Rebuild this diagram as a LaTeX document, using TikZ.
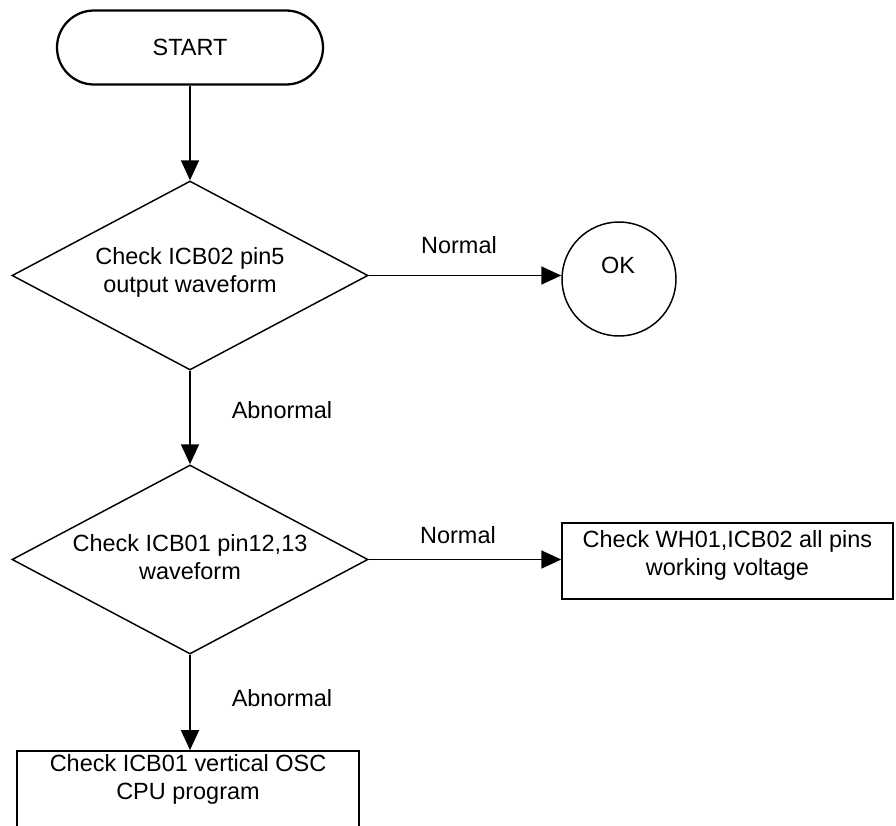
\documentclass[tikz,border=0pt]{standalone}
\usepackage{fontspec}
\setmainfont{Liberation Sans}
\usetikzlibrary{shapes.geometric,shapes.misc,arrows.meta}
\tikzset{
  every node/.style={font=\fontsize{17.6}{21}\selectfont, align=center},
  startbox/.style={rounded rectangle, draw, line width=1.7pt, minimum width=199.5pt, minimum height=55.5pt, inner sep=0pt},
  dia/.style={diamond, draw, line width=1.1pt, minimum width=267pt, minimum height=141.75pt, inner sep=0pt},
  okcirc/.style={circle, draw, line width=1.1pt, minimum size=85.5pt, inner sep=0pt},
  procbox/.style={rectangle, draw, line width=1.3pt, inner sep=0pt},
  txt/.style={inner sep=0pt},
  flow/.style={line width=1.3pt, -{Triangle[length=15pt, width=13.5pt]}}
}
\begin{document}
\begin{tikzpicture}[x=0.75pt, y=-0.75pt]
\useasboundingbox (0,0) rectangle (896,825);
\node[startbox] (start) at (190,47.5) {START};
\node[dia] (d1) at (190,275.5) {};
\node[txt] (t1) at (190,272) {Check ICB02 pin5\\output waveform};
\node[okcirc] (ok) at (619,279) {};
\node[txt] (tok) at (618,265) {OK};
\node[dia] (d2) at (190,559.5) {};
\node[txt] (t2) at (190,557) {Check ICB01 pin12,13\\waveform};
\node[procbox, minimum width=248pt, minimum height=57pt] (b2) at (727.5,561) {};
\node[txt] (tb2) at (727.5,555) {Check WH01,ICB02 all pins\\working voltage};
\node[procbox, minimum width=256.5pt, minimum height=66.75pt] (b3) at (188,795.5) {};
\node[txt] (tb3) at (188,779) {Check ICB01 vertical OSC\\CPU program};
\node[txt] (n1) at (459,245) {Normal};
\node[txt] (n2) at (458,535) {Normal};
\node[txt] (a1) at (282,410) {Abnormal};
\node[txt] (a2) at (282,698) {Abnormal};
\draw[flow] (start.south) -- (d1.north);
\draw[flow] (d1.east) -- (d1.east -| ok.west);
\draw[flow] (d1.south) -- (d2.north);
\draw[flow] (d2.east) -- (d2.east -| b2.west);
\draw[flow] (d2.south) -- (d2.south |- b3.north);
\end{tikzpicture}
\end{document}
